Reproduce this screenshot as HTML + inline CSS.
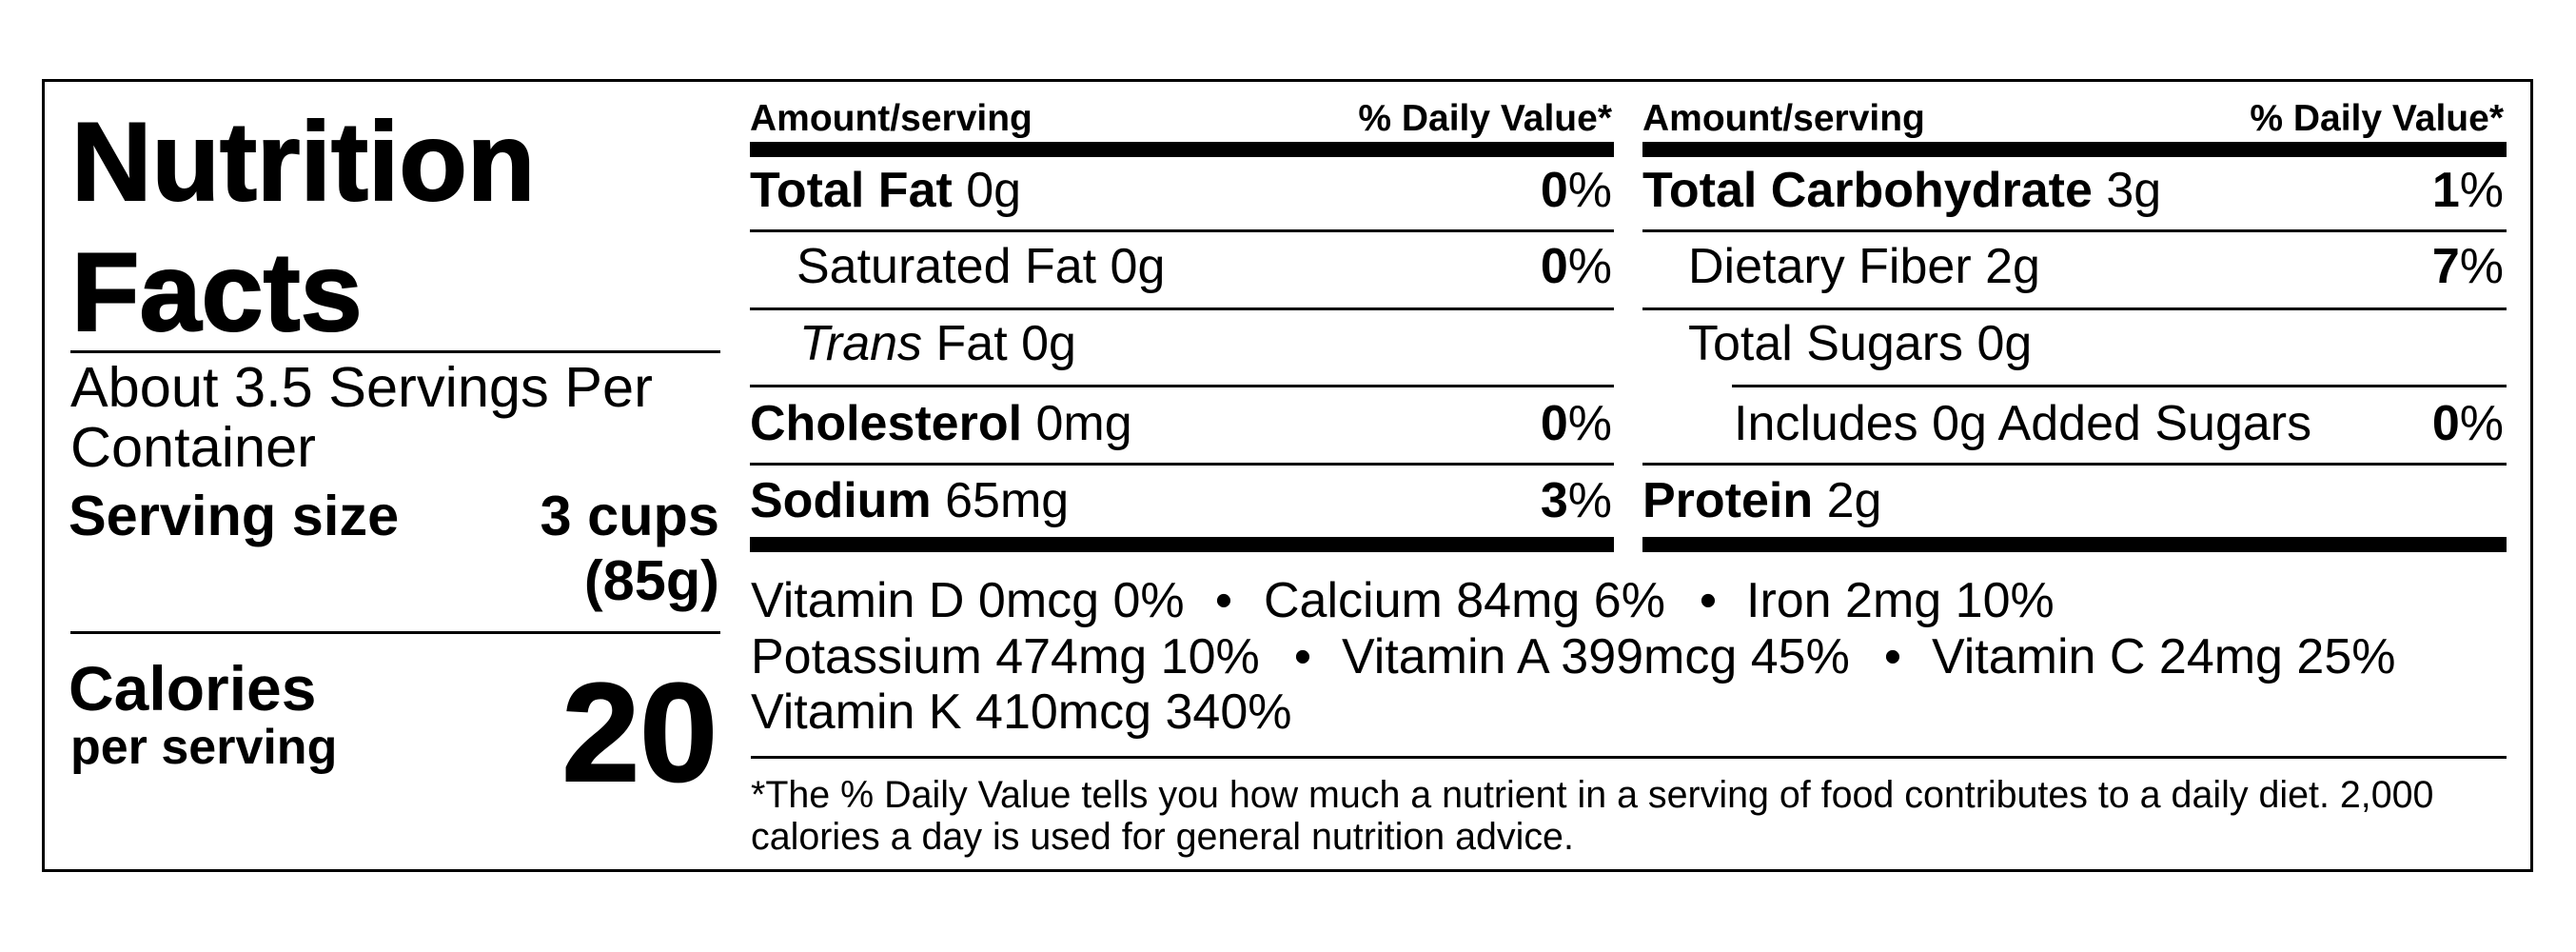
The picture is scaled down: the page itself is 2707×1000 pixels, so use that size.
<!DOCTYPE html>
<html>
<head>
<meta charset="utf-8">
<style>
  html, body { margin: 0; padding: 0; background: #fff; }
  body { width: 2707px; height: 1000px; overflow: hidden; }
  svg { display: block; }
  text { font-family: "Liberation Sans", Arial, Helvetica, sans-serif; fill: #000; }
  .b { font-weight: bold; }
</style>
</head>
<body>
<svg width="2707" height="1000" viewBox="0 0 2707 1000" xmlns="http://www.w3.org/2000/svg">
  <rect x="0" y="0" width="2707" height="1000" fill="#fff"/>
  <!-- outer border -->
  <rect x="45.5" y="84.5" width="2615" height="830" fill="none" stroke="#000" stroke-width="3"/>

  <!-- Left column -->
  <text x="75" y="210" font-size="117" class="b" stroke="#000" stroke-width="2">Nutrition</text>
  <text x="75" y="347" font-size="117" class="b" stroke="#000" stroke-width="2">Facts</text>
  <rect x="74" y="368" width="683" height="3" fill="#000"/>
  <text x="74" y="427" font-size="59.5">About 3.5 Servings Per</text>
  <text x="74" y="490" font-size="59.5">Container</text>
  <text x="72" y="562" font-size="59.5" class="b">Serving size</text>
  <text x="756" y="562" font-size="59.5" class="b" text-anchor="end">3 cups</text>
  <text x="756" y="630" font-size="59.5" class="b" text-anchor="end">(85g)</text>
  <rect x="74" y="663" width="683" height="3" fill="#000"/>
  <text x="72" y="746" font-size="66" class="b">Calories</text>
  <text x="74" y="802" font-size="52" class="b">per serving</text>
  <text x="754" y="820" font-size="147" class="b" text-anchor="end" stroke="#000" stroke-width="2">20</text>

  <!-- Middle column -->
  <text x="788" y="137" font-size="39" class="b">Amount/serving</text>
  <text x="1694" y="137" font-size="39" class="b" text-anchor="end">% Daily Value*</text>
  <rect x="788" y="149" width="908" height="16" fill="#000"/>

  <text x="788" y="217" font-size="52"><tspan class="b">Total Fat</tspan> 0g</text>
  <text x="1694" y="217" font-size="52" text-anchor="end"><tspan class="b">0</tspan>%</text>
  <rect x="788" y="241" width="908" height="3" fill="#000"/>

  <text x="837" y="297" font-size="52">Saturated Fat 0g</text>
  <text x="1694" y="297" font-size="52" text-anchor="end"><tspan class="b">0</tspan>%</text>
  <rect x="788" y="323" width="908" height="3" fill="#000"/>

  <text x="840" y="378" font-size="52"><tspan font-style="italic">Trans</tspan> Fat 0g</text>
  <rect x="788" y="404" width="908" height="3" fill="#000"/>

  <text x="788" y="462" font-size="52"><tspan class="b">Cholesterol</tspan> 0mg</text>
  <text x="1694" y="462" font-size="52" text-anchor="end"><tspan class="b">0</tspan>%</text>
  <rect x="788" y="486" width="908" height="3" fill="#000"/>

  <text x="788" y="543" font-size="52"><tspan class="b">Sodium</tspan> 65mg</text>
  <text x="1694" y="543" font-size="52" text-anchor="end"><tspan class="b">3</tspan>%</text>
  <rect x="788" y="564" width="908" height="16" fill="#000"/>

  <!-- Right column -->
  <text x="1726" y="137" font-size="39" class="b">Amount/serving</text>
  <text x="2631" y="137" font-size="39" class="b" text-anchor="end">% Daily Value*</text>
  <rect x="1726" y="149" width="908" height="16" fill="#000"/>

  <text x="1726" y="217" font-size="52"><tspan class="b">Total Carbohydrate</tspan> 3g</text>
  <text x="2631" y="217" font-size="52" text-anchor="end"><tspan class="b">1</tspan>%</text>
  <rect x="1726" y="241" width="908" height="3" fill="#000"/>

  <text x="1774" y="297" font-size="52">Dietary Fiber 2g</text>
  <text x="2631" y="297" font-size="52" text-anchor="end"><tspan class="b">7</tspan>%</text>
  <rect x="1726" y="323" width="908" height="3" fill="#000"/>

  <text x="1774" y="378" font-size="52">Total Sugars 0g</text>
  <rect x="1820" y="404" width="814" height="3" fill="#000"/>

  <text x="1822" y="462" font-size="52">Includes 0g Added Sugars</text>
  <text x="2631" y="462" font-size="52" text-anchor="end"><tspan class="b">0</tspan>%</text>
  <rect x="1726" y="486" width="908" height="3" fill="#000"/>

  <text x="1726" y="543" font-size="52"><tspan class="b">Protein</tspan> 2g</text>
  <rect x="1726" y="564" width="908" height="16" fill="#000"/>

  <!-- Vitamins -->
  <text x="789" y="648" font-size="52">Vitamin D 0mcg 0%</text>
  <text x="1286" y="648" font-size="52" text-anchor="middle">•</text>
  <text x="1328" y="648" font-size="52">Calcium 84mg 6%</text>
  <text x="1795" y="648" font-size="52" text-anchor="middle">•</text>
  <text x="1835" y="648" font-size="52">Iron 2mg 10%</text>

  <text x="789" y="707" font-size="52">Potassium 474mg 10%</text>
  <text x="1369" y="707" font-size="52" text-anchor="middle">•</text>
  <text x="1410" y="707" font-size="52">Vitamin A 399mcg 45%</text>
  <text x="1989" y="707" font-size="52" text-anchor="middle">•</text>
  <text x="2030" y="707" font-size="52">Vitamin C 24mg 25%</text>

  <text x="789" y="765" font-size="52">Vitamin K 410mcg 340%</text>

  <rect x="789" y="794" width="1845" height="3" fill="#000"/>

  <!-- Footnote -->
  <text x="789" y="848" font-size="39.4">*The % Daily Value tells you how much a nutrient in a serving of food contributes to a daily diet. 2,000</text>
  <text x="789" y="892" font-size="39.4">calories a day is used for general nutrition advice.</text>
</svg>
</body>
</html>
